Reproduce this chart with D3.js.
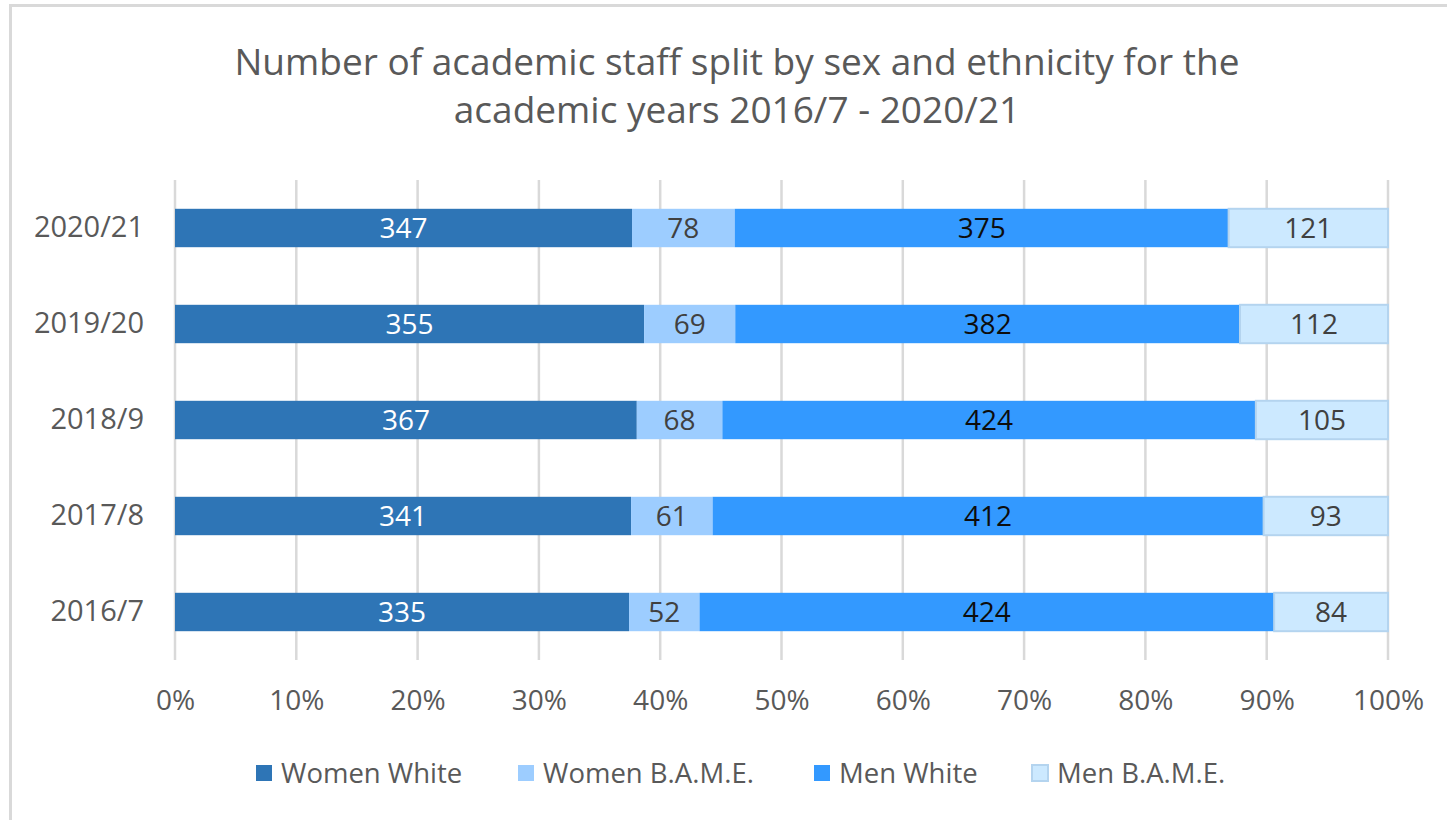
<!DOCTYPE html>
<html>
<head>
<meta charset="utf-8">
<script src="https://cdn.jsdelivr.net/npm/d3@7"></script>
<style>
  body { margin: 0; background: #fff; }
  svg { display: block; font-family: "Open Sans", sans-serif; }
</style>
</head>
<body>
<svg id="chart" width="1447" height="820"></svg>
<script>
// data, bottom row first
const years = ["2016/7", "2017/8", "2018/9", "2019/20", "2020/21"];
const womenWhite = [335, 341, 367, 355, 347];
const womenBame = [52, 61, 68, 69, 78];
const menWhite = [424, 412, 424, 382, 375];
const menBame = [84, 93, 105, 112, 121];
const seriesNames = ["Women White", "Women B.A.M.E.", "Men White", "Men B.A.M.E."];
const xTicks = [0, 0.1, 0.2, 0.3, 0.4, 0.5, 0.6, 0.7, 0.8, 0.9, 1];

const fills = ["#2e75b6", "#9dcdff", "#3399ff", "#cce9ff"];
const strokes = [null, null, null, "#b4d4ef"];
const labelColors = ["#ffffff", "#404040", "#0d0d0d", "#404040"];

const svg = d3.select("#chart");
const width = 1447, height = 820;
const margin = { top: 180, right: 59, bottom: 160, left: 175 };

// chart frame (only left and top edges visible in the crop)
svg.append("line").attr("x1", 10.5).attr("x2", 10.5).attr("y1", 4).attr("y2", height)
  .attr("stroke", "#d9d9d9").attr("stroke-width", 3);
svg.append("line").attr("x1", 9).attr("x2", width).attr("y1", 5.5).attr("y2", 5.5)
  .attr("stroke", "#d9d9d9").attr("stroke-width", 3);

// title
const title = svg.append("text")
  .attr("text-anchor", "middle")
  .attr("fill", "#595959")
  .style("font-size", "37px");
title.append("tspan").attr("x", 737).attr("y", 75).text("Number of academic staff split by sex and ethnicity for the");
title.append("tspan").attr("x", 737).attr("y", 123).text("academic years 2016/7 - 2020/21");

const rows = years.map((y, i) => ({
  year: y,
  vals: [womenWhite[i], womenBame[i], menWhite[i], menBame[i]]
}));
rows.forEach(r => { r.total = d3.sum(r.vals); });

const stack = d3.stack()
  .keys([0, 1, 2, 3])
  .value((d, k) => d.vals[k] / d.total);
const layers = stack(rows);

const x = d3.scaleLinear().domain([0, 1]).range([margin.left, width - margin.right]);
const y = d3.scaleBand()
  .domain(years.slice().reverse())
  .range([margin.top, height - margin.bottom])
  .paddingInner(0.6)
  .paddingOuter(0.3);

// gridlines
svg.append("g")
  .selectAll("line")
  .data(xTicks)
  .join("line")
  .attr("x1", d => x(d)).attr("x2", d => x(d))
  .attr("y1", margin.top).attr("y2", height - margin.bottom)
  .attr("stroke", "#d9d9d9").attr("stroke-width", 2.5);

// x axis labels
const xAxis = svg.append("g")
  .attr("transform", `translate(0,${height - margin.bottom})`)
  .call(d3.axisBottom(x).tickValues(xTicks).tickFormat(d3.format(".0%")).tickSize(0).tickPadding(30));
xAxis.select(".domain").remove();
xAxis.selectAll("text")
  .attr("fill", "#595959")
  .style("font-size", "28px")
  .style("font-family", "Open Sans, sans-serif");

// y axis labels
const yAxis = svg.append("g")
  .attr("transform", `translate(${margin.left},0)`)
  .call(d3.axisLeft(y).tickSize(0).tickPadding(31));
yAxis.select(".domain").remove();
yAxis.selectAll("text")
  .attr("fill", "#595959")
  .style("font-size", "29px")
  .style("font-family", "Open Sans, sans-serif");

// bars
const layerG = svg.append("g")
  .selectAll("g")
  .data(layers)
  .join("g");

layerG.selectAll("rect")
  .data(d => d)
  .join("rect")
  .attr("x", d => x(d[0]))
  .attr("y", d => y(d.data.year))
  .attr("width", d => x(d[1]) - x(d[0]))
  .attr("height", y.bandwidth())
  .attr("fill", function() { return fills[d3.select(this.parentNode).datum().key]; })
  .attr("stroke", function() { return strokes[d3.select(this.parentNode).datum().key]; })
  .attr("stroke-width", 2);

layerG.selectAll("text")
  .data(d => d.map(p => ({ p, key: d.key })))
  .join("text")
  .attr("x", d => (x(d.p[0]) + x(d.p[1])) / 2)
  .attr("y", d => y(d.p.data.year) + y.bandwidth() / 2)
  .attr("dy", "0.36em")
  .attr("text-anchor", "middle")
  .attr("fill", d => labelColors[d.key])
  .style("font-size", "28px")
  .text(d => d.p.data.vals[d.key]);

// legend
const legendX = [256, 518, 814, 1032];
const legend = svg.append("g")
  .selectAll("g")
  .data(seriesNames)
  .join("g")
  .attr("transform", (d, i) => `translate(${legendX[i]},773)`);
legend.append("rect")
  .attr("x", 0).attr("y", -8).attr("width", 16).attr("height", 16)
  .attr("fill", (d, i) => fills[i])
  .attr("stroke", (d, i) => strokes[i])
  .attr("stroke-width", 2);
legend.append("text")
  .attr("x", 25).attr("dy", "0.35em")
  .attr("fill", "#595959")
  .style("font-size", "27.5px")
  .text(d => d);
</script>
</body>
</html>
